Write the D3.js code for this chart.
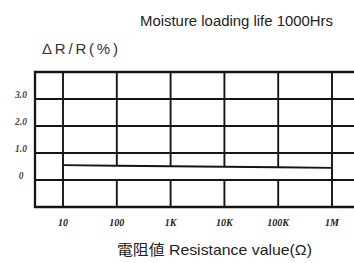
<!DOCTYPE html>
<html>
<head>
<meta charset="utf-8">
<script src="https://cdn.jsdelivr.net/npm/d3@7"></script>
<style>
  body { margin: 0; background: #fff; }
  svg { display: block; }
</style>
</head>
<body>
<svg width="354" height="263"></svg>
<script>
// resistance decades on the x axis
const resistance = [10, 100, 1e3, 1e4, 1e5, 1e6]
const resLabels = ["10", "100", "1K", "10K", "100K", "1M"]
// dR/R gridlines and labels
const drTicks = [0, 1, 2, 3]
const drLabels = ["0", "1.0", "2.0", "3.0"]
// upper edge of the shaded band (lower edge is 0)
const bandTop = [0.55, 0.53, 0.51, 0.49, 0.47, 0.45]

const svg = d3.select("svg")
const plotLeft = 35, plotRight = 362, plotTop = 72, plotBottom = 207

const x = d3.scaleLog().domain([10, 1e6]).range([63, 332])
const y = d3.scaleLinear().domain([-1, 4]).range([plotBottom, plotTop])
const ink = "#151515"

const grid = svg.append("g").attr("stroke", ink).attr("stroke-width", 1.9)

// vertical lines
grid.selectAll(".v")
  .data(resistance)
  .enter().append("line")
    .attr("x1", d => x(d)).attr("x2", d => x(d))
    .attr("y1", plotTop).attr("y2", plotBottom)

// horizontal lines
grid.selectAll(".h")
  .data(drTicks)
  .enter().append("line")
    .attr("x1", plotLeft).attr("x2", plotRight)
    .attr("y1", d => y(d)).attr("y2", d => y(d))

// band: white inside, outlined
const band = resistance.map((r, i) => ({r: r, v: bandTop[i]}))
const area = d3.area()
  .x(d => x(d.r))
  .y0(y(0))
  .y1(d => y(d.v))
svg.append("path")
  .datum(band)
  .attr("d", area)
  .attr("fill", "#fff")
  .attr("stroke", "none")

svg.append("path")
  .datum(band)
  .attr("d", d3.line().x(d => x(d.r)).y(d => y(d.v)))
  .attr("fill", "none")
  .attr("stroke", ink)
  .attr("stroke-width", 1.9)

// band ends
svg.append("g").attr("stroke", ink).attr("stroke-width", 1.9)
  .selectAll("line")
  .data([band[0], band[band.length - 1]])
  .enter().append("line")
    .attr("x1", d => x(d.r)).attr("x2", d => x(d.r))
    .attr("y1", d => y(d.v)).attr("y2", y(0))

svg.append("line")
  .attr("x1", x(10)).attr("x2", x(1e6))
  .attr("y1", y(0)).attr("y2", y(0))
  .attr("stroke", ink).attr("stroke-width", 1.9)

// frame
svg.append("path")
  .attr("d", `M${plotRight},${plotTop}H${plotLeft}V${plotBottom}H${plotRight}`)
  .attr("fill", "none")
  .attr("stroke", ink)
  .attr("stroke-width", 2.3)

// tick labels
const tickFont = "'Liberation Serif', 'DejaVu Serif', serif"
svg.append("g")
  .selectAll("text")
  .data(resistance)
  .enter().append("text")
    .attr("x", d => x(d))
    .attr("y", 226)
    .attr("text-anchor", "middle")
    .attr("font-family", tickFont)
    .attr("font-style", "italic")
    .attr("font-weight", "bold")
    .attr("font-size", 10)
    .attr("fill", "#222")
    .text((d, i) => resLabels[i])

svg.append("g")
  .selectAll("text")
  .data(drTicks)
  .enter().append("text")
    .attr("x", 21)
    .attr("y", d => y(d) - 1)
    .attr("text-anchor", "middle")
    .attr("font-family", tickFont)
    .attr("font-style", "italic")
    .attr("font-weight", "bold")
    .attr("font-size", 9.5)
    .attr("fill", "#444")
    .text((d, i) => drLabels[i])

// titles
const sans = "'Liberation Sans', Arial, 'Noto Sans CJK TC', sans-serif"
svg.append("text")
  .attr("x", 140).attr("y", 26)
  .attr("font-family", sans).attr("font-size", 14)
  .attr("textLength", 193).attr("lengthAdjust", "spacingAndGlyphs")
  .attr("fill", "#222")
  .text("Moisture loading life 1000Hrs")

svg.append("text")
  .attr("x", 42).attr("y", 54)
  .attr("font-family", sans).attr("font-size", 15)
  .attr("textLength", 76).attr("lengthAdjust", "spacing")
  .attr("fill", "#333")
  .text("ΔR/R(%)")

svg.append("text")
  .attr("x", 117).attr("y", 255)
  .attr("font-family", sans).attr("font-size", 14.5)
  .attr("textLength", 195).attr("lengthAdjust", "spacingAndGlyphs")
  .attr("fill", "#222")
  .text("電阻値 Resistance value(Ω)")
</script>
</body>
</html>
